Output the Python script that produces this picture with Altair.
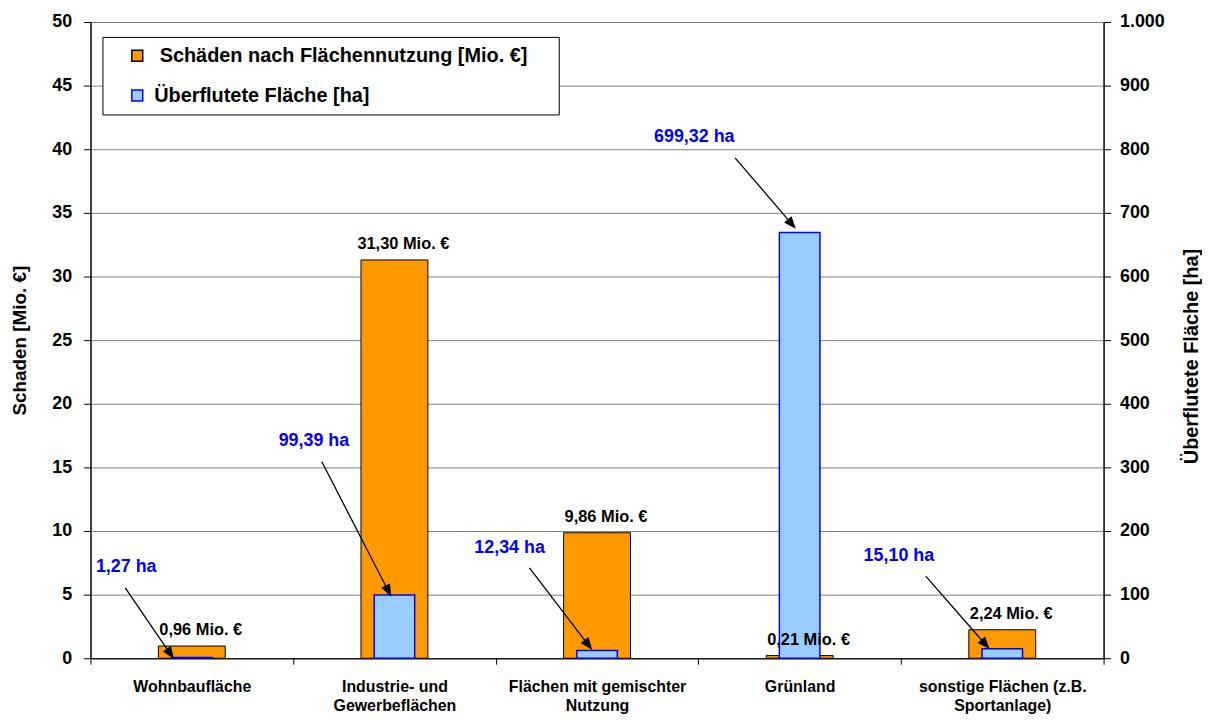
import math
import altair as alt
import pandas as pd

# ---------------- data ----------------
categories = [
    "Wohnbaufläche",
    "Industrie- und\nGewerbeflächen",
    "Flächen mit gemischter\nNutzung",
    "Grünland",
    "sonstige Flächen (z.B.\nSportanlage)",
]
damage_mio = [0.96, 31.30, 9.86, 0.21, 2.24]          # Schäden [Mio. €]
area_ha = [1.27, 99.39, 12.34, 669.32, 15.10]         # bar heights as drawn [ha]
area_labels = ["1,27 ha", "99,39 ha", "12,34 ha", "699,32 ha", "15,10 ha"]
series_names = ["Schäden nach Flächennutzung [Mio. €]", "Überflutete Fläche [ha]"]
left_ticks = list(range(0, 51, 5))
right_ticks = list(range(0, 1001, 100))

# callout layout (pixel offsets relative to the top centre of each blue bar)
callout_text = [(-66, -91), (-81, -155), (-88, -103), (-106, -96), (-104, -93)]
callout_from = [(-67, -70), (-73, -134), (-68, -83), (-65, -75), (-77, -73)]
callout_to = [(-19, 0), (-4, 0), (-6, -2), (-5, -5), (-14, -1)]

FONT = "Liberation Sans"
ORANGE = "#FF9900"
LIGHTBLUE = "#99CCFF"
BLUE = "#0000FF"
NBSP = "\u00a0"
ZWSP = "\u200b"   # keeps the padding spaces from being trimmed

# legend entries as displayed (first one indented and padded like the original box)
legend_names = [ZWSP + NBSP + series_names[0] + NBSP * 4 + ZWSP, series_names[1]]


def arrow_path(start, end, head_len=10.0, head_w=4.0):
    sx, sy = start
    ex, ey = end
    dx, dy = ex - sx, ey - sy
    n = math.hypot(dx, dy)
    ux, uy = dx / n, dy / n
    bx, by = ex - head_len * ux, ey - head_len * uy
    px, py = -uy, ux
    p1 = (bx + head_w * px, by + head_w * py)
    p2 = (bx - head_w * px, by - head_w * py)
    return (f"M{sx:.1f},{sy:.1f}L{bx:.1f},{by:.1f}"
            f"M{ex:.1f},{ey:.1f}L{p1[0]:.1f},{p1[1]:.1f}L{p2[0]:.1f},{p2[1]:.1f}Z")


df_dmg = pd.DataFrame({
    "cat": categories,
    "val": damage_mio,
    "series": legend_names[0],
    "label": [f"{v:.2f}".replace(".", ",") + " Mio. €" for v in damage_mio],
})
df_ha = pd.DataFrame({
    "cat": categories,
    "val": area_ha,
    "series": legend_names[1],
    "label": area_labels,
    "arrow": [arrow_path(s, e) for s, e in zip(callout_from, callout_to)],
})

# ---------------- encodings ----------------
x_enc = alt.X(
    "cat:N", sort=categories,
    scale=alt.Scale(paddingInner=0, paddingOuter=0),
    axis=alt.Axis(
        title=None, labelAngle=0, tickBand="extent", tickSize=6,
        tickColor="black", domainColor="black",
        labelFont=FONT, labelFontSize=16, labelFontWeight="bold", labelColor="black",
        labelPadding=14, labelLineHeight=20, labelLimit=300,
        labelExpr="split(datum.label, '\\n')",
    ),
)

left_axis = alt.Axis(
    values=left_ticks, grid=True, gridColor="#808080", gridWidth=1,
    domainColor="black", tickColor="black", tickSize=7,
    labelFont=FONT, labelFontSize=18, labelFontWeight="bold", labelColor="black",
    labelPadding=12,
    title="Schaden [Mio. €]", titleFont=FONT, titleFontSize=19,
    titleFontWeight="bold", titleColor="black", titlePadding=22,
)
y_left = alt.Y("val:Q", scale=alt.Scale(domain=[0, 50], nice=False), axis=left_axis)
y_left_noaxis = alt.Y("val:Q", scale=alt.Scale(domain=[0, 50], nice=False), axis=None)

y_right = alt.Y(
    "val:Q", scale=alt.Scale(domain=[0, 1000], nice=False),
    axis=alt.Axis(
        orient="right", values=right_ticks, grid=False,
        domainColor="black", tickColor="black", tickSize=7,
        labelFont=FONT, labelFontSize=18, labelFontWeight="bold", labelColor="black",
        labelPadding=9,
        labelExpr="replace(format(datum.value, ','), ',', '.')",
        title="Überflutete Fläche [ha]", titleFont=FONT, titleFontSize=20,
        titleFontWeight="bold", titleColor="black", titlePadding=17,
        titleAngle=270, titleBaseline="top", titleY=336,
    ),
)

legend_spec = alt.Legend(
    title=None, orient="none", legendX=12, legendY=15, direction="vertical",
    symbolType="square", symbolSize=121, symbolStrokeWidth=1.5,
    labelFont=FONT, labelFontSize=20, labelFontWeight="bold", labelColor="black",
    labelLimit=800, padding=9, rowPadding=20, symbolOffset=16, labelOffset=7,
    strokeColor="black", fillColor="white",
)

color_enc = alt.Color("series:N", scale=alt.Scale(domain=legend_names, range=[ORANGE, LIGHTBLUE]),
                      legend=legend_spec)
stroke_enc = alt.Stroke("series:N", scale=alt.Scale(domain=legend_names, range=["#000000", BLUE]),
                        legend=legend_spec)

# ---------------- damage bars (left axis) ----------------
dmg_bars = alt.Chart(df_dmg).mark_bar(width=alt.RelativeBandSize(0.33), strokeWidth=1, opacity=1).encode(
    x=x_enc, y=y_left, color=color_enc, stroke=stroke_enc,
)

# ---------------- area group (right axis) ----------------
ha_bars = alt.Chart(df_ha).mark_bar(width=alt.RelativeBandSize(0.2), strokeWidth=1.5, opacity=1).encode(
    x=x_enc, y=y_right, color=color_enc, stroke=stroke_enc,
)
arrows = alt.Chart(df_ha).mark_point(
    filled=True, size=4, fill="black", stroke="black", strokeWidth=1.3, opacity=1,
).encode(x=x_enc, y=y_right, shape=alt.Shape("arrow:N", scale=None, legend=None))

ha_texts = []
for i, cat in enumerate(categories):
    ox, oy = callout_text[i]
    ha_texts.append(
        alt.Chart(df_ha).transform_filter(alt.datum.cat == cat).mark_text(
            dx=ox, dy=oy, align="center", baseline="middle",
            font=FONT, fontSize=18, fontWeight="bold", color=BLUE,
        ).encode(x=x_enc, y=y_right, text="label:N")
    )
right_group = alt.layer(ha_bars, *ha_texts, arrows)

# ---------------- damage value labels (drawn on top) ----------------
dmg_text = alt.Chart(df_dmg).mark_text(
    dx=9, dy=-11, align="center", baseline="alphabetic",
    font=FONT, fontSize=16.5, fontWeight="bold", color="black",
).encode(x=x_enc, y=y_left_noaxis, text="label:N")

chart = (
    alt.layer(dmg_bars, right_group, dmg_text)
    .resolve_scale(y="independent")
    .properties(width=1019, height=640, padding={"left": 2, "top": 3, "right": 0, "bottom": 0},
                background="white")
    .configure_view(stroke="black", strokeWidth=1)
)

chart.save("out.html", embed_options={"renderer": "svg", "actions": False})
